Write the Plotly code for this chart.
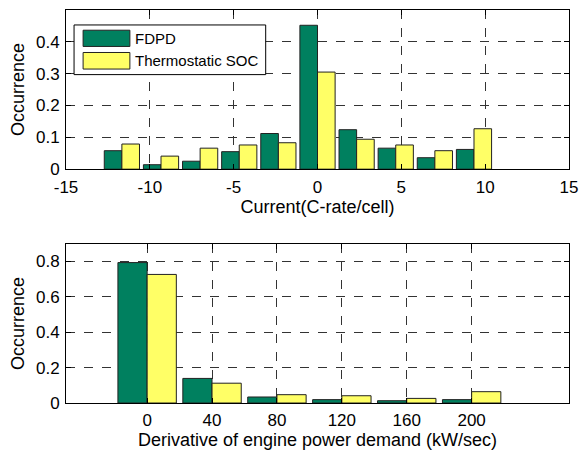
import plotly.graph_objects as go
from plotly.subplots import make_subplots

# Top panel: current histogram
cur_centers = [-35/3, -28/3, -7.0, -14/3, -7/3, 0.0, 7/3, 14/3, 7.0, 28/3]
cur_fdpd = [0.058, 0.014, 0.025, 0.055, 0.112, 0.452, 0.124, 0.066, 0.036, 0.062]
cur_thermo = [0.079, 0.041, 0.066, 0.076, 0.083, 0.305, 0.094, 0.076, 0.058, 0.127]

# Bottom panel: derivative of engine power demand
der_centers = [0, 40, 80, 120, 160, 200]
der_fdpd = [0.794, 0.139, 0.034, 0.019, 0.013, 0.019]
der_thermo = [0.727, 0.112, 0.047, 0.041, 0.026, 0.064]

top_xticks = [-15, -10, -5, 0, 5, 10, 15]
top_xlabels = ["-15", "-10", "-5", "0", "5", "10", "15"]
top_yticks = [0, 0.1, 0.2, 0.3, 0.4]
bot_xticks = [0, 40, 80, 120, 160, 200]
bot_yticks = [0, 0.2, 0.4, 0.6, 0.8]

GREEN = "#00805f"
YELLOW = "#ffff66"
FONT = "Liberation Sans, Arial, sans-serif"
TICK = 17
TITLE = 18

fig = make_subplots(rows=2, cols=1, vertical_spacing=0.19)

edge = dict(color="#222222", width=1)
fig.add_trace(go.Bar(x=cur_centers, y=cur_fdpd, name="FDPD", marker=dict(color=GREEN, line=edge), showlegend=False), row=1, col=1)
fig.add_trace(go.Bar(x=cur_centers, y=cur_thermo, name="Thermostatic SOC", marker=dict(color=YELLOW, line=edge), showlegend=False), row=1, col=1)
fig.add_trace(go.Bar(x=der_centers, y=der_fdpd, name="FDPD", marker=dict(color=GREEN, line=edge), showlegend=False), row=2, col=1)
fig.add_trace(go.Bar(x=der_centers, y=der_thermo, name="Thermostatic SOC", marker=dict(color=YELLOW, line=edge), showlegend=False), row=2, col=1)

axis_common = dict(showline=True, linecolor="black", linewidth=1, mirror="ticks",
                   ticks="inside", ticklen=5, tickcolor="black",
                   showgrid=True, gridcolor="#333333", griddash="dash", gridwidth=1,
                   zeroline=False, tickfont=dict(family=FONT, size=TICK, color="black"))

fig.update_xaxes(**axis_common, ticklabelstandoff=2)
fig.update_yaxes(**axis_common, ticklabelstandoff=2)

title_font = dict(family=FONT, size=TITLE, color="black")
fig.update_xaxes(range=[-15, 15], tickvals=top_xticks, ticktext=top_xlabels, domain=[0, 1],
                 title=dict(text="Current(C-rate/cell)", font=title_font, standoff=4), row=1, col=1)
fig.update_yaxes(range=[0, 0.5], tickvals=top_yticks, domain=[0.595, 1.0],
                 title=dict(text="Occurrence", font=title_font, standoff=6), row=1, col=1)
fig.update_xaxes(range=[-50, 260], tickvals=bot_xticks, domain=[0, 1],
                 title=dict(text="Derivative of engine power demand (kW/sec)", font=title_font, standoff=2), row=2, col=1)
fig.update_yaxes(range=[0, 0.9], tickvals=bot_yticks, domain=[0, 0.405],
                 title=dict(text="Occurrence", font=title_font, standoff=6), row=2, col=1)

fig.update_layout(
    width=587, height=454,
    margin=dict(l=66, r=15, t=9, b=50),
    barmode="group", bargap=0.1, bargroupgap=0,
    plot_bgcolor="white", paper_bgcolor="white",
    font=dict(family=FONT, size=TICK, color="black"),
)

# Custom legend (MATLAB-style wide swatches) in top-axis domain coordinates
shapes = [
    dict(type="rect", xref="x domain", yref="y domain", x0=0.016, x1=0.397, y0=0.594, y1=0.906,
         line=dict(color="black", width=1), fillcolor="white", layer="above"),
    dict(type="rect", xref="x domain", yref="y domain", x0=0.034, x1=0.127, y0=0.771, y1=0.873,
         line=dict(color="#222222", width=1), fillcolor=GREEN, layer="above"),
    dict(type="rect", xref="x domain", yref="y domain", x0=0.034, x1=0.127, y0=0.629, y1=0.733,
         line=dict(color="#222222", width=1), fillcolor=YELLOW, layer="above"),
]
for s in shapes:
    fig.add_shape(**s)
fig.add_annotation(xref="x domain", yref="y domain", x=0.134, y=0.822, text="FDPD",
                   showarrow=False, xanchor="left", yanchor="middle", font=dict(family=FONT, size=15, color="black"))
fig.add_annotation(xref="x domain", yref="y domain", x=0.134, y=0.681, text="Thermostatic SOC",
                   showarrow=False, xanchor="left", yanchor="middle", font=dict(family=FONT, size=15, color="black"))

fig.write_html("out.html")
